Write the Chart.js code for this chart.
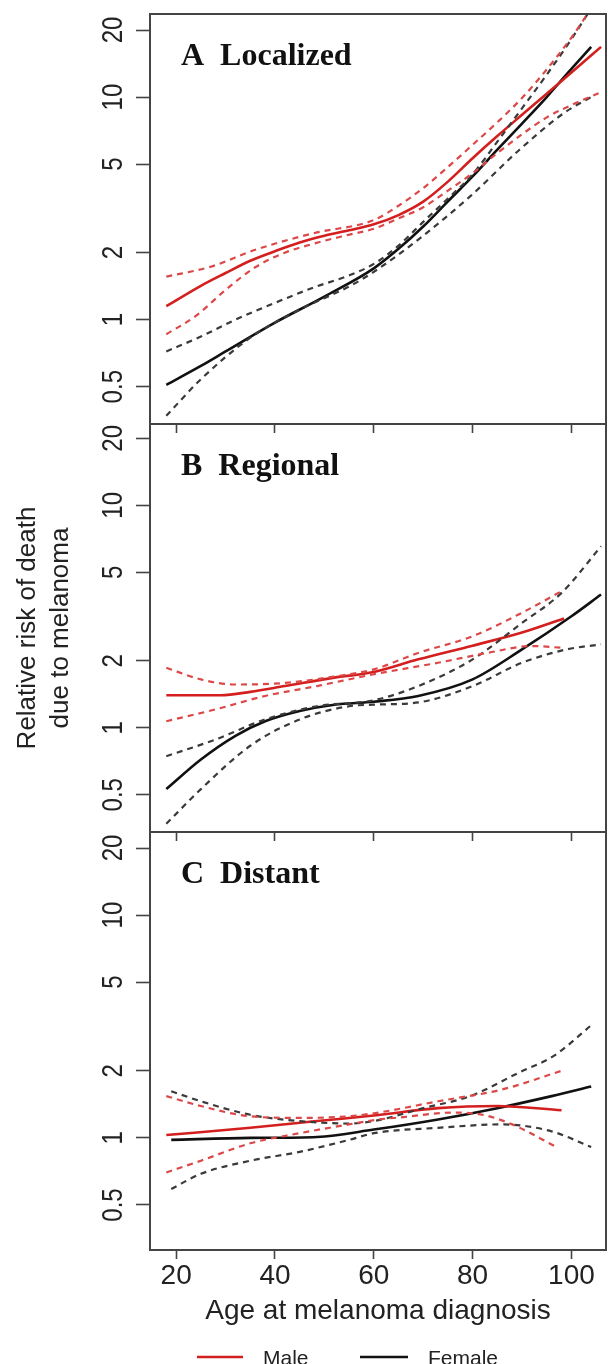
<!DOCTYPE html>
<html>
<head>
<meta charset="utf-8">
<script src="https://cdn.jsdelivr.net/npm/chart.js@4.4.0/dist/chart.umd.min.js"></script>
<style>
body { margin: 0; background: #fff; }
#wrap { position: relative; width: 608px; height: 1364px; overflow: hidden; background: #fff; }
canvas { position: absolute; left: 0; }
</style>
</head>
<body>
<div id="wrap">
  <canvas id="chartA" width="608" height="440" style="top:0px"></canvas>
  <canvas id="chartB" width="608" height="440" style="top:410px"></canvas>
  <canvas id="chartC" width="608" height="546" style="top:818px"></canvas>
</div>
<script>
// axis ticks
const xTicks = [20, 40, 60, 80, 100];
const yTicks = [0.5, 1, 2, 5, 10, 20];

// A Localized : [age, relative risk]
const locMale = [[18,1.15],[25,1.42],[30,1.62],[35,1.84],[40,2.03],[45,2.22],[50,2.38],[55,2.52],[60,2.68],[65,2.95],[70,3.39],[75,4.17],[80,5.31],[85,6.68],[90,8.32],[95,10.35],[100,12.9],[106,16.8]];
const locMaleUp = [[18,1.56],[27,1.73],[36,2.06],[48,2.45],[60,2.80],[65,3.25],[70,3.9],[75,4.85],[80,6.1],[85,7.7],[90,9.9],[95,13.3],[100,18.5],[104,25]];
const locMaleLo = [[18,0.86],[24,1.04],[30,1.36],[36,1.72],[42,2.0],[48,2.2],[54,2.38],[60,2.56],[65,2.85],[70,3.2],[75,3.8],[80,4.55],[85,5.6],[90,6.8],[95,8.1],[100,9.2],[105.5,10.4]];
const locFemale = [[18,0.51],[25,0.62],[30,0.72],[40,0.97],[50,1.27],[60,1.70],[65,2.08],[70,2.62],[75,3.4],[80,4.4],[85,5.8],[90,7.6],[95,10.0],[99.5,13.0],[104,16.8]];
const locFemaleUp = [[18,0.72],[25,0.84],[32,1.0],[40,1.19],[48,1.40],[55,1.58],[60,1.78],[65,2.15],[70,2.75],[75,3.5],[80,4.5],[85,6.3],[90,8.9],[95,12.6],[100,18.2],[104,25]];
const locFemaleLo = [[18,0.37],[25,0.54],[35,0.83],[45,1.11],[55,1.41],[60,1.64],[69,2.29],[79.5,3.58],[89.5,5.8],[98.5,8.48],[104,10.0]];

// B Regional
const regMale = [[18,1.40],[29,1.40],[35,1.45],[42,1.54],[52,1.68],[60,1.78],[69,2.03],[80,2.34],[90,2.68],[98.5,3.1]];
const regMaleUp = [[18,1.86],[25,1.65],[32,1.565],[42,1.59],[52,1.70],[60,1.83],[69,2.17],[80,2.58],[90,3.29],[98,4.11]];
const regMaleLo = [[18,1.07],[28,1.21],[38,1.39],[48.5,1.54],[60,1.74],[73,1.96],[83,2.17],[92,2.33],[98,2.29]];
const regFemale = [[18,0.53],[25,0.72],[32,0.92],[38,1.07],[45,1.19],[52,1.27],[60,1.31],[69,1.39],[80,1.65],[90,2.25],[100,3.17],[106,3.97]];
const regFemaleUp = [[18,0.745],[28,0.886],[38,1.09],[48.5,1.25],[60,1.33],[69,1.54],[80,2.03],[90,2.96],[98,4.04],[106,6.54]];
const regFemaleLo = [[18,0.37],[25,0.53],[35,0.83],[45,1.09],[55,1.25],[60,1.27],[69,1.30],[80,1.54],[90,1.96],[99,2.25],[106,2.37]];

// C Distant
const disMale = [[18,1.03],[35,1.11],[48.5,1.19],[60,1.26],[73,1.36],[85,1.39],[98,1.33]];
const disMaleUp = [[18,1.54],[25,1.39],[35,1.25],[45,1.23],[55,1.25],[61,1.30],[73,1.46],[86,1.65],[98,2.0]];
const disMaleLo = [[18,0.70],[25,0.79],[35,0.946],[45,1.05],[55,1.15],[61,1.21],[66,1.24],[76,1.30],[82,1.27],[88,1.15],[97,0.91]];
const disFemale = [[19,0.98],[35,1.0],[48.5,1.01],[60,1.09],[73,1.21],[85,1.36],[96,1.54],[104,1.70]];
const disFemaleUp = [[19,1.62],[25,1.46],[35,1.27],[45,1.19],[55,1.16],[60,1.19],[70,1.36],[79.5,1.54],[89.5,1.97],[96.5,2.34],[104,3.2]];
const disFemaleLo = [[19,0.59],[25,0.69],[35,0.79],[45,0.866],[55,0.98],[60,1.05],[73,1.11],[86,1.15],[96,1.07],[104,0.91]];

const RED = "#d41f1f";
const RED_DASH = "#dc4848";
const BLACK = "#111111";
const BLACK_DASH = "#3a3a3a";
const SANS = "'Liberation Sans', Arial, sans-serif";

function pts(arr) {
  return arr.map(p => ({x: p[0], y: p[1]}));
}

function fitLine(arr, color) {
  return {data: pts(arr), borderColor: color, borderWidth: 2.6, pointRadius: 0,
          cubicInterpolationMode: "monotone", fill: false};
}

function ciLine(arr, color) {
  return {data: pts(arr), borderColor: color, borderWidth: 2.2, borderDash: [6, 5], pointRadius: 0,
          cubicInterpolationMode: "monotone", fill: false};
}

// box, panel title and rotated y tick labels
const panelDecor = {
  id: "panelDecor",
  afterDraw(chart, args, opts) {
    const ctx = chart.ctx;
    const a = chart.chartArea;
    const y = chart.scales.y;
    ctx.save();
    ctx.strokeStyle = "#444";
    ctx.lineWidth = 2;
    ctx.strokeRect(a.left, a.top, a.right - a.left, a.bottom - a.top);

    ctx.fillStyle = "#111";
    ctx.font = "bold 32px 'Liberation Serif', 'Times New Roman', serif";
    ctx.textAlign = "left";
    ctx.textBaseline = "alphabetic";
    ctx.fillText(opts.label, 181, a.top + 51);

    ctx.font = "24px " + SANS;
    ctx.fillStyle = "#222";
    ctx.textAlign = "center";
    yTicks.forEach(v => {
      ctx.save();
      ctx.translate(122, y.getPixelForValue(v));
      ctx.scale(1.2, 1);
      ctx.rotate(-Math.PI / 2);
      ctx.fillText(String(v), 0, 0);
      ctx.restore();
    });
    ctx.restore();
  }
};

// legend under the bottom panel
const legendDecor = {
  id: "legendDecor",
  afterDraw(chart) {
    const ctx = chart.ctx;
    const ly = 539;
    ctx.save();
    ctx.lineWidth = 2.6;
    ctx.strokeStyle = RED;
    ctx.beginPath(); ctx.moveTo(197, ly); ctx.lineTo(243, ly); ctx.stroke();
    ctx.strokeStyle = BLACK;
    ctx.beginPath(); ctx.moveTo(360, ly); ctx.lineTo(408, ly); ctx.stroke();
    ctx.fillStyle = "#222";
    ctx.font = "21px " + SANS;
    ctx.textBaseline = "alphabetic";
    ctx.fillText("Male", 263, 547);
    ctx.fillText("Female", 428, 547);
    ctx.restore();
  }
};

function makePanel(id, label, series, yMin, yMax, isLast) {
  return new Chart(document.getElementById(id), {
    type: "line",
    data: {
      datasets: [
        ciLine(series[1], RED_DASH), ciLine(series[2], RED_DASH),
        ciLine(series[4], BLACK_DASH), ciLine(series[5], BLACK_DASH),
        fitLine(series[0], RED), fitLine(series[3], BLACK)
      ]
    },
    options: {
      responsive: false,
      animation: false,
      events: [],
      layout: {padding: {top: 14, right: 2, left: 0, bottom: isLast ? 0 : (id === "chartA" ? 7 : 9)}},
      plugins: {
        legend: {display: false},
        tooltip: {enabled: false},
        panelDecor: {label: label}
      },
      scales: {
        x: {
          type: "linear",
          min: 14.7,
          max: 107,
          afterBuildTicks: s => { s.ticks = xTicks.map(v => ({value: v})); s.min = 14.7; s.max = 107; },
          afterFit: s => { s.height = isLast ? 114 : 9; },
          border: {display: false},
          grid: {drawOnChartArea: false, drawTicks: true, tickLength: 9, tickColor: "#444", tickWidth: 1.6},
          ticks: {display: isLast, color: "#222", padding: 0, font: {family: SANS, size: 28}},
          title: {
            display: isLast,
            text: "Age at melanoma diagnosis",
            color: "#222",
            font: {family: SANS, size: 28},
            padding: {top: 0, bottom: 36}
          }
        },
        y: {
          type: "logarithmic",
          min: yMin,
          max: yMax,
          afterBuildTicks: s => { s.ticks = yTicks.map(v => ({value: v})); s.min = yMin; s.max = yMax; },
          afterFit: s => { s.width = 150; },
          border: {display: false},
          grid: {drawOnChartArea: false, drawTicks: true, tickLength: 14, tickColor: "#444", tickWidth: 1.6},
          ticks: {display: false},
          title: {
            display: id === "chartB",
            text: ["Relative risk of death", "due to melanoma"],
            color: "#222",
            font: {family: SANS, size: 26, lineHeight: 1.25},
            padding: {top: 12, bottom: 0}
          }
        }
      }
    },
    plugins: isLast ? [panelDecor, legendDecor] : [panelDecor]
  });
}

makePanel("chartA", "A  Localized",
  [locMale, locMaleUp, locMaleLo, locFemale, locFemaleUp, locFemaleLo], 0.34, 23.6, false);
makePanel("chartB", "B  Regional",
  [regMale, regMaleUp, regMaleLo, regFemale, regFemaleUp, regFemaleLo], 0.34, 23.2, false);
makePanel("chartC", "C  Distant",
  [disMale, disMaleUp, disMaleLo, disFemale, disFemaleUp, disFemaleLo], 0.314, 23.6, true);
</script>
</body>
</html>
